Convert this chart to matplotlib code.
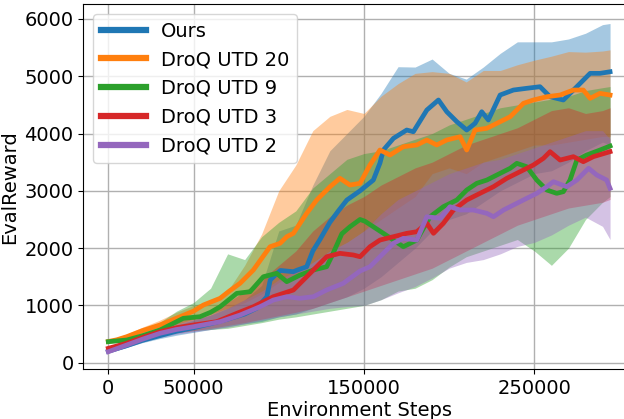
import numpy as np
import matplotlib
matplotlib.use("Agg")
import matplotlib.pyplot as plt

# mean curves, x in thousands of env steps
ours_x = [0, 10, 20, 30, 40, 50, 60, 70, 80, 87, 93, 95, 99, 101, 108.6, 111, 116.4, 120, 124, 130, 135, 140, 147.7, 151, 155.5, 159.4, 161.4, 167.3, 175.1, 179, 186.9, 193.7, 198.6, 204.5, 210.3, 215.2, 219.1, 223, 229.9, 237.7, 245.5, 253.3, 259.2, 267, 274.9, 282.7, 288.5, 294.4]
ours_y = [200, 290, 390, 470, 550, 610, 680, 760, 850, 950, 1150, 1443, 1560, 1610, 1588, 1618, 1675, 1950, 2141, 2450, 2650, 2840, 3000, 3080, 3188, 3485, 3712, 3916, 4061, 4031, 4410, 4585, 4380, 4206, 4061, 4178, 4380, 4236, 4672, 4759, 4789, 4817, 4642, 4585, 4817, 5050, 5050, 5078]

utd20_x = [0, 5, 10.8, 20, 30.3, 42.1, 50, 55.8, 65.6, 71, 77.3, 85.1, 94.9, 100.8, 104.7, 108.6, 116.4, 122.3, 124.2, 130.1, 135.9, 141.8, 147.7, 153.5, 159.4, 165.3, 173.1, 181, 186.9, 192.7, 198.6, 206.4, 210.3, 215.2, 222.1, 229.9, 235.8, 243.6, 249.4, 257.3, 265.1, 272.9, 278.7, 282.7, 288.5, 294.4]
utd20_y = [370, 400, 454, 560, 658, 803, 900, 1007, 1124, 1250, 1386, 1618, 2024, 2084, 2199, 2258, 2607, 2840, 2897, 3072, 3218, 3101, 3131, 3450, 3712, 3625, 3770, 3800, 3887, 3800, 3887, 3944, 3712, 4061, 4091, 4206, 4293, 4527, 4585, 4642, 4672, 4759, 4759, 4614, 4701, 4672]

utd9_x = [0, 10.8, 20, 30.3, 44, 53.8, 60, 65.6, 75.4, 83.2, 91, 98.8, 104.7, 112.5, 120.3, 128.1, 131, 134, 137, 141.8, 147.7, 150.5, 155.5, 161.4, 167.3, 173.1, 181, 188.8, 196.6, 204.5, 210.3, 216.2, 222.1, 229.9, 235.8, 239.7, 245.5, 251.4, 257.3, 263.1, 267, 270.9, 274.9, 280.7, 288.5, 294.4]
utd9_y = [367, 396, 470, 570, 775, 803, 880, 977, 1211, 1239, 1501, 1560, 1414, 1530, 1618, 1675, 1850, 2050, 2250, 2373, 2500, 2470, 2373, 2258, 2141, 2024, 2141, 2548, 2723, 2840, 3014, 3131, 3188, 3305, 3393, 3480, 3421, 3188, 3014, 2956, 2985, 3188, 3537, 3625, 3712, 3782]

utd3_x = [0, 10.8, 20, 30.3, 40, 49.9, 63.6, 75.4, 85.1, 96.8, 108.6, 116.4, 120.3, 128.1, 135.9, 143.8, 147.7, 153.5, 159.4, 167.3, 175.1, 181, 186.9, 190.8, 196.6, 202.5, 210.3, 218.1, 226, 233.8, 241.6, 249.4, 255.3, 259.2, 265.1, 272.9, 278.7, 284.6, 294.4]
utd3_y = [251, 339, 440, 541, 610, 658, 716, 862, 977, 1152, 1269, 1501, 1618, 1850, 1909, 1880, 1850, 2024, 2141, 2199, 2258, 2286, 2433, 2258, 2433, 2665, 2840, 2956, 3072, 3218, 3334, 3450, 3567, 3683, 3537, 3596, 3508, 3596, 3683]

utd2_x = [0, 10.8, 20, 30.3, 40, 49.9, 65.6, 77.3, 89, 96.8, 104.7, 112.5, 120.3, 128.1, 137.9, 147.7, 153.5, 159.4, 167.3, 173.1, 181, 186.9, 194.7, 200.5, 206.4, 214.2, 222.1, 226, 231.9, 239.7, 245.5, 251.4, 257.3, 261.2, 269, 274.9, 281.8, 286.6, 292.4, 294.4]
utd2_y = [192, 309, 410, 513, 580, 628, 716, 832, 977, 1094, 1152, 1124, 1152, 1269, 1386, 1600, 1675, 1850, 2084, 2171, 2141, 2548, 2520, 2723, 2665, 2665, 2607, 2548, 2665, 2782, 2869, 2956, 3072, 3159, 3072, 3188, 3393, 3276, 3188, 3043]

# shaded bands, coarser grid
band_x = [0, 10, 20, 30, 40, 50, 60, 70, 80, 90, 100, 110, 120, 130, 140, 150, 160, 170, 180, 190, 200, 210, 220, 230, 240, 250, 260, 270, 280, 290, 294.4]
ours_lo = [180, 260, 350, 420, 480, 530, 580, 630, 680, 720, 800, 850, 950, 1050, 1150, 1300, 1500, 1750, 2000, 2300, 2500, 2600, 2800, 3000, 3150, 3300, 3350, 3500, 3700, 3850, 3800]
ours_hi = [230, 350, 460, 560, 660, 740, 830, 950, 1100, 1350, 2300, 2400, 3100, 3700, 4000, 4300, 4700, 5166, 5160, 5300, 5050, 4950, 5160, 5400, 5600, 5600, 5600, 5650, 5750, 5900, 5920]
utd20_lo = [340, 400, 500, 580, 670, 760, 850, 950, 1050, 1200, 1400, 1550, 1750, 1950, 2100, 2300, 2500, 2700, 2900, 3300, 3400, 3300, 3500, 3600, 3700, 3800, 3800, 3850, 3900, 3950, 3950]
utd20_hi = [400, 490, 620, 740, 880, 1000, 1080, 1250, 1700, 2250, 3000, 3450, 4050, 4300, 4420, 4350, 4650, 4870, 5050, 5080, 5050, 4900, 5100, 5100, 5200, 5280, 5350, 5430, 5420, 5440, 5460]
utd9_lo = [340, 360, 420, 480, 530, 560, 580, 600, 650, 700, 760, 800, 850, 900, 950, 1000, 1100, 1250, 1300, 1450, 1670, 1850, 1950, 2050, 2150, 1950, 1700, 2000, 2500, 2800, 2900]
utd9_hi = [390, 430, 560, 700, 900, 1050, 1300, 1900, 1800, 2200, 2450, 2650, 3050, 3300, 3550, 3650, 3700, 3800, 3900, 4000, 4150, 4250, 4350, 4450, 4500, 4550, 4600, 4650, 4750, 4800, 4820]
utd3_lo = [230, 300, 390, 470, 520, 560, 600, 650, 700, 760, 820, 880, 950, 1050, 1150, 1250, 1350, 1450, 1550, 1650, 1800, 1950, 2100, 2250, 2400, 2500, 2600, 2700, 2750, 2800, 2850]
utd3_hi = [270, 370, 500, 620, 720, 800, 900, 1050, 1250, 1450, 1700, 1950, 2300, 2550, 2750, 2900, 3100, 3250, 3400, 3500, 3650, 3800, 3900, 4000, 4100, 4250, 4400, 4450, 4350, 4400, 4450]
utd2_lo = [170, 260, 360, 440, 500, 540, 580, 620, 680, 740, 800, 850, 900, 950, 980, 1000, 1100, 1220, 1330, 1480, 1650, 1750, 1800, 1900, 2030, 2100, 2230, 2400, 2540, 2380, 2150]
utd2_hi = [215, 340, 460, 580, 670, 750, 830, 950, 1100, 1250, 1450, 1600, 1750, 1950, 2100, 2300, 2600, 2850, 3000, 3150, 3300, 3400, 3500, 3550, 3650, 3750, 3850, 3950, 4050, 4050, 3900]

names = ["Ours", "DroQ UTD 20", "DroQ UTD 9", "DroQ UTD 3", "DroQ UTD 2"]
colors = ["#1f77b4", "#ff7f0e", "#2ca02c", "#d62728", "#9467bd"]
means = [(ours_x, ours_y), (utd20_x, utd20_y), (utd9_x, utd9_y), (utd3_x, utd3_y), (utd2_x, utd2_y)]
bands = [(ours_lo, ours_hi), (utd20_lo, utd20_hi), (utd9_lo, utd9_hi), (utd3_lo, utd3_hi), (utd2_lo, utd2_hi)]

fig = plt.figure(figsize=(6.24, 4.19), dpi=100)
ax = fig.add_axes([0.1335, 0.1186, 0.8843, 0.8718])

bx = np.array(band_x) * 1000
for name, c, (mx, my), (lo, hi) in zip(names, colors, means, bands):
    ax.fill_between(bx, lo, hi, color=c, alpha=0.4, linewidth=0)
    ax.plot(np.array(mx) * 1000, my, color=c, lw=3.4, label=name)

ax.set_xlim(-14670, 309100)
ax.set_ylim(-115, 6260)
ax.set_xticks([0, 50000, 150000, 250000])
ax.set_yticks(np.arange(0, 6001, 1000))
ax.tick_params(labelsize=14)
ax.grid(True, color="#b0b0b0", lw=1.0)
ax.set_axisbelow(True)
ax.set_xlabel("Environment Steps", fontsize=14, labelpad=2)
ax.set_ylabel("EvalReward", fontsize=14)

leg = ax.legend(loc="upper left", fontsize=14, handlelength=2.3)
for l in leg.get_lines():
    l.set_linewidth(4.5)

fig.savefig("out.png", dpi=100)
